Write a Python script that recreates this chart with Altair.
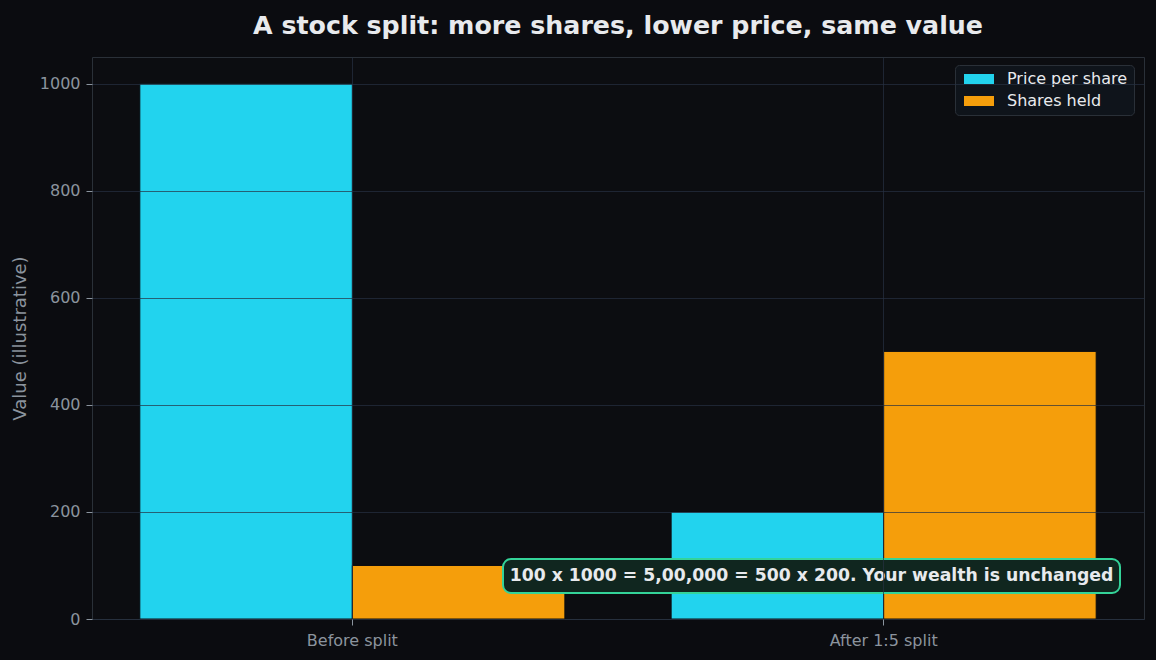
import altair as alt
import pandas as pd

categories = ["Before split", "After 1:5 split"]
series_names = ["Price per share", "Shares held"]
price_per_share = [1000, 200]
shares_held = [100, 500]
colors = ["#22d3ee", "#f59e0b"]
y_ticks = [0, 200, 400, 600, 800, 1000]
note = "100 x 1000 = 5,00,000 = 500 x 200. Your wealth is unchanged"

rows = []
for i, c in enumerate(categories):
    rows.append({"category": c, "series": series_names[0], "value": price_per_share[i]})
    rows.append({"category": c, "series": series_names[1], "value": shares_held[i]})
df = pd.DataFrame(rows)

FONT = "DejaVu Sans"
GRID = "#263141"
W, H = 1052, 562

bars = alt.Chart(df).mark_bar(stroke="#0b0c10", strokeWidth=1).encode(
    x=alt.X("category:N", sort=categories,
            scale=alt.Scale(paddingInner=0.2, paddingOuter=0.09),
            axis=alt.Axis(title=None, labelAngle=0, bandPosition=0.5, grid=True,
                          gridColor=GRID, gridOpacity=0.7, zindex=1, labelPadding=7)),
    xOffset=alt.XOffset("series:N", sort=series_names,
                        scale=alt.Scale(paddingInner=0, paddingOuter=0)),
    y=alt.Y("value:Q", scale=alt.Scale(domain=[0, 1050], nice=False),
            axis=alt.Axis(title="Value (illustrative)", values=y_ticks, format="d",
                          grid=True, gridColor=GRID, gridOpacity=0.7, zindex=1,
                          titleFontSize=18, titleFontWeight="normal",
                          titleColor="#8b949e", titlePadding=10)),
    color=alt.Color("series:N", sort=series_names,
                    scale=alt.Scale(domain=series_names, range=colors),
                    legend=alt.Legend(title=None, orient="none", legendX=863, legendY=8,
                                      fillColor="#0f141b", strokeColor="#2a3038",
                                      padding=6, cornerRadius=4,
                                      labelColor="#e8eaed", labelFontSize=16,
                                      labelFont=FONT, labelOffset=20,
                                      symbolType="M-3,-1H3V1H-3Z",
                                      symbolSize=100, symbolOffset=10,
                                      symbolStrokeWidth=0,
                                      symbolOpacity=1, rowPadding=6)),
)

box = alt.Chart(pd.DataFrame({"t": [note]})).mark_rect(
    fill="#10261f", stroke="#34d399", strokeWidth=2, cornerRadius=8
).encode(x=alt.value(411), x2=alt.value(1028), y=alt.value(502), y2=alt.value(536))

label = alt.Chart(pd.DataFrame({"t": [note]})).mark_text(
    font=FONT, fontSize=17.25, fontWeight="bold", color="#e8eaed",
    align="center", baseline="middle"
).encode(x=alt.value(719.5), y=alt.value(519), text="t:N")

chart = alt.layer(bars, box, label).properties(
    width=W, height=H,
    title=alt.TitleParams("A stock split: more shares, lower price, same value",
                          font=FONT, fontSize=25.3, fontWeight="bold", color="#e8eaed",
                          anchor="middle", offset=18),
    background="#0b0c10",
    padding={"left": 92, "top": 57, "right": 12, "bottom": 41},
    autosize=alt.AutoSizeParams(type="none"),
).configure_view(
    fill="#0c0d11", stroke="#2a3038", strokeWidth=1
).configure_axis(
    labelFont=FONT, titleFont=FONT, labelColor="#8b949e", labelFontSize=16,
    tickColor="#8b949e", tickSize=6, domain=False, labelPadding=6
)

chart.save("out.html", embed_options={"renderer": "svg", "actions": False})
